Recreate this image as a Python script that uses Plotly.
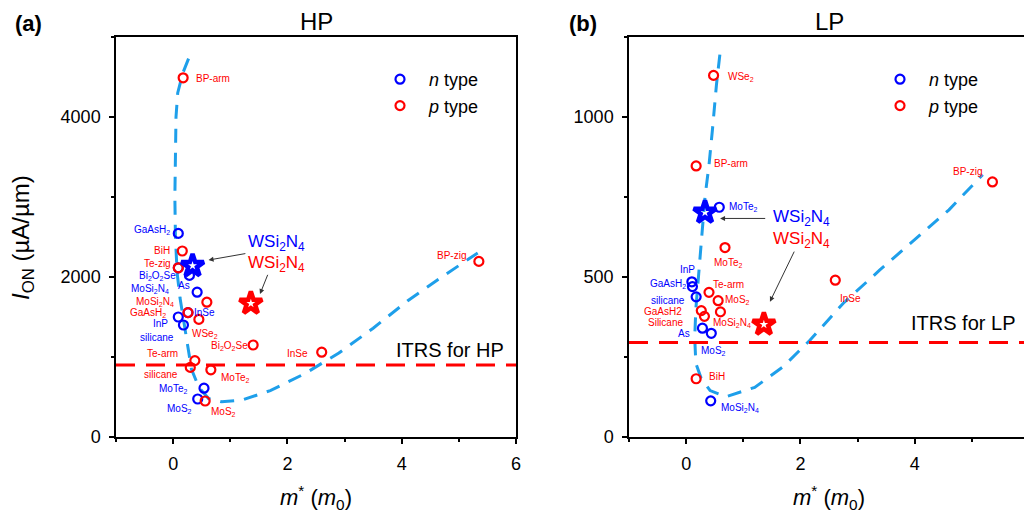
import plotly.graph_objects as go

# ---------------- data: HP panel ----------------
hp_n_names = ["GaAsH<sub>2</sub>", "Bi<sub>2</sub>O<sub>2</sub>Se", "As", "MoSi<sub>2</sub>N<sub>4</sub>",
              "InSe", "InP", "silicane", "MoTe<sub>2</sub>", "MoS<sub>2</sub>"]
hp_n_mass = [0.09, 0.09, 0.285, 0.42, 0.26, 0.09, 0.18, 0.54, 0.43]
hp_n_ion = [2545, 2115, 2020, 1810, 1555, 1500, 1400, 610, 475]

hp_p_names = ["BP-arm", "BiH", "Te-zig", "MoSi<sub>2</sub>N<sub>4</sub>", "GaAsH<sub>2</sub>", "WSe<sub>2</sub>",
              "Bi<sub>2</sub>O<sub>2</sub>Se", "InSe", "BP-zig", "Te-arm", "silicane", "MoTe<sub>2</sub>", "MoS<sub>2</sub>"]
hp_p_mass = [0.175, 0.16, 0.09, 0.59, 0.26, 0.45, 1.40, 2.60, 5.35, 0.38, 0.30, 0.66, 0.56]
hp_p_ion = [4490, 2325, 2115, 1685, 1555, 1470, 1150, 1060, 2195, 955, 870, 840, 450]

hp_star_n = (0.34, 2140)
hp_star_p = (1.36, 1670)
hp_itrs = 900

hp_curve_mass = [0.27, 0.17, 0.08, 0.05, 0.04, 0.03, 0.04, 0.07, 0.12, 0.20, 0.25, 0.32, 0.45,
                 0.62, 0.85, 1.2, 1.7, 2.3, 2.9, 3.5, 4.1, 4.7, 5.33]
hp_curve_ion = [4730, 4550, 4300, 4000, 3500, 3000, 2500, 2050, 1740, 1400, 1150, 850, 620,
                480, 440, 460, 580, 790, 1050, 1360, 1700, 2000, 2300]

# ---------------- data: LP panel ----------------
lp_n_names = ["InP", "GaAsH<sub>2</sub>", "silicane", "As", "MoS<sub>2</sub>", "MoSi<sub>2</sub>N<sub>4</sub>", "MoTe<sub>2</sub>"]
lp_n_mass = [0.10, 0.11, 0.175, 0.285, 0.44, 0.43, 0.58]
lp_n_ion = [485, 470, 438, 340, 324, 113, 718]

lp_p_names = ["WSe<sub>2</sub>", "BP-arm", "MoTe<sub>2</sub>", "Te-arm", "MoS<sub>2</sub>", "GaAsH2", "Silicane",
              "MoSi<sub>2</sub>N<sub>4</sub>", "InSe", "BiH", "BP-zig"]
lp_p_mass = [0.48, 0.175, 0.68, 0.40, 0.56, 0.265, 0.32, 0.60, 2.61, 0.175, 5.36]
lp_p_ion = [1130, 847, 592, 452, 426, 395, 377, 391, 490, 182, 797]

lp_star_n = (0.33, 702)
lp_star_p = (1.36, 352)
lp_itrs = 295

lp_curve_mass = [0.59, 0.53, 0.46, 0.40, 0.33, 0.27, 0.22, 0.17, 0.15, 0.17, 0.26, 0.42, 0.70,
                 1.2, 1.7, 2.17, 2.75, 3.39, 4.03, 4.6, 5.19]
lp_curve_ion = [1195, 1100, 960, 850, 750, 630, 510, 400, 310, 230, 185, 145, 126,
                155, 220, 303, 418, 522, 621, 710, 820]

# ---------------- label offsets (pixels) ----------------
hp_n_dx = [-26, -21, -5, -47, 16, -18, -26, -31, -18]
hp_n_dy = [3, -8, -10, 3, 0, -6, -12, -1, -10]
hp_p_dx = [30, -20, -21, -52, -40, 6, -24, -24, -27, -32, -29, 24, 18]
hp_p_dy = [-1, 0, 4, 0, 0, -15, -1, -1, 6, 7, -7, -8, -11]
lp_n_dx = [-4, -24, -28, -18, 2, 29, 24]
lp_n_dy = [12, 3, -4, -5, -18, -7, 0]
lp_p_dx = [27, 35, 3, 19, 19, -38, -39, 12, 15, 21, -25]
lp_p_dy = [-2, 2, -15, 8, 1, -1, -6, -11, -18, 2, 10]

BLUE = "#0000FF"
RED = "#FF0000"
CURVE = "#1E9FEA"
FONT = "Liberation Sans, Arial, sans-serif"
W, H = 1032, 519
OFF = 8  # page body margin in the viewer


def PX(px):
    return (px - OFF) / W


def PY(py):
    return 1 - (py - OFF) / H


fig = go.Figure()


def add_panel(xa, ya, legend, n_m, n_i, p_m, p_i, star_n, star_p, cm, ci, itrs):
    fig.add_trace(go.Scatter(x=cm, y=ci, mode="lines", xaxis=xa, yaxis=ya, showlegend=False,
                             line=dict(color=CURVE, width=3, dash="14px,10px"), hoverinfo="skip"))
    fig.add_trace(go.Scatter(x=[-1, 6], y=[itrs, itrs], mode="lines", xaxis=xa, yaxis=ya, showlegend=False,
                             line=dict(color=RED, width=3, dash="19px,11px"), hoverinfo="skip"))
    fig.add_trace(go.Scatter(x=n_m, y=n_i, mode="markers", xaxis=xa, yaxis=ya, name="<i>n</i> type",
                             legend=legend,
                             marker=dict(symbol="circle-open", size=9, color=BLUE, line=dict(width=2.2, color=BLUE))))
    fig.add_trace(go.Scatter(x=p_m, y=p_i, mode="markers", xaxis=xa, yaxis=ya, name="<i>p</i> type",
                             legend=legend,
                             marker=dict(symbol="circle-open", size=9, color=RED, line=dict(width=2.2, color=RED))))
    fig.add_trace(go.Scatter(x=[star_n[0]], y=[star_n[1]], mode="markers", xaxis=xa, yaxis=ya, showlegend=False,
                             marker=dict(symbol="star-open", size=17, color=BLUE, line=dict(width=4.5, color=BLUE))))
    fig.add_trace(go.Scatter(x=[star_p[0]], y=[star_p[1]], mode="markers", xaxis=xa, yaxis=ya, showlegend=False,
                             marker=dict(symbol="star-open", size=17, color=RED, line=dict(width=4.5, color=RED))))


add_panel("x", "y", "legend", hp_n_mass, hp_n_ion, hp_p_mass, hp_p_ion, hp_star_n, hp_star_p,
          hp_curve_mass, hp_curve_ion, hp_itrs)
add_panel("x2", "y2", "legend2", lp_n_mass, lp_n_ion, lp_p_mass, lp_p_ion, lp_star_n, lp_star_p,
          lp_curve_mass, lp_curve_ion, lp_itrs)

ann = []


def labels(xr, yr, names, mass, ion, dx, dy, color):
    for nm, m, v, sx, sy in zip(names, mass, ion, dx, dy):
        ann.append(dict(x=m, y=v, xref=xr, yref=yr, text=nm, showarrow=False, xshift=sx, yshift=sy,
                        font=dict(size=10, color=color, family=FONT)))


labels("x", "y", hp_n_names, hp_n_mass, hp_n_ion, hp_n_dx, hp_n_dy, BLUE)
labels("x", "y", hp_p_names, hp_p_mass, hp_p_ion, hp_p_dx, hp_p_dy, RED)
labels("x2", "y2", lp_n_names, lp_n_mass, lp_n_ion, lp_n_dx, lp_n_dy, BLUE)
labels("x2", "y2", lp_p_names, lp_p_mass, lp_p_ion, lp_p_dx, lp_p_dy, RED)

WSI = "WSi<sub>2</sub>N<sub>4</sub>"
ann += [
    dict(x=1.81, y=2421, xref="x", yref="y", text=WSI, showarrow=False, font=dict(size=17, color=BLUE, family=FONT)),
    dict(x=1.81, y=2163, xref="x", yref="y", text=WSI, showarrow=False, font=dict(size=17, color=RED, family=FONT)),
    dict(x=0.62, y=2212, ax=1.29, ay=2296, xref="x", yref="y", axref="x", ayref="y", text="", showarrow=True,
         arrowhead=2, arrowsize=1, arrowwidth=1, arrowcolor="#333333"),
    dict(x=1.52, y=1787, ax=1.665, ay=2046, xref="x", yref="y", axref="x", ayref="y", text="", showarrow=True,
         arrowhead=2, arrowsize=1, arrowwidth=1, arrowcolor="#333333"),
    dict(x=4.84, y=1087, xref="x", yref="y", text="ITRS for HP", showarrow=False,
         font=dict(size=20, color="black", family=FONT)),
    dict(x=2.02, y=683, xref="x2", yref="y2", text=WSI, showarrow=False, font=dict(size=17, color=BLUE, family=FONT)),
    dict(x=2.02, y=616, xref="x2", yref="y2", text=WSI, showarrow=False, font=dict(size=17, color=RED, family=FONT)),
    dict(x=0.594, y=683, ax=1.41, ay=683, xref="x2", yref="y2", axref="x2", ayref="y2", text="", showarrow=True,
         arrowhead=2, arrowsize=1, arrowwidth=1, arrowcolor="#333333"),
    dict(x=1.467, y=423, ax=1.904, ay=584, xref="x2", yref="y2", axref="x2", ayref="y2", text="", showarrow=True,
         arrowhead=2, arrowsize=1, arrowwidth=1, arrowcolor="#333333"),
    dict(x=4.84, y=357, xref="x2", yref="y2", text="ITRS for LP", showarrow=False,
         font=dict(size=20, color="black", family=FONT)),
]


def paper_text(px, py, text, size, angle=0):
    ann.append(dict(x=PX(px), y=PY(py), xref="paper", yref="paper", text=text, showarrow=False, textangle=angle,
                    xanchor="center", yanchor="middle", font=dict(size=size, color="black", family=FONT)))


paper_text(28, 23, "<b>(a)</b>", 22)
paper_text(583, 23, "<b>(b)</b>", 22)
paper_text(316, 21, "HP", 24)
paper_text(829, 21, "LP", 24)
paper_text(22, 238, "<i>I</i><sub>ON</sub> (µA/µm)", 24, -90)
paper_text(316, 497, "<i>m</i><sup>*</sup> (<i>m</i><sub>0</sub>)", 22)
paper_text(829, 497, "<i>m</i><sup>*</sup> (<i>m</i><sub>0</sub>)", 22)

ydom = [PY(437), PY(37)]
axis_common = dict(showgrid=False, zeroline=False, showline=True, linecolor="black", linewidth=1.5,
                   mirror=True, ticks="outside", ticklen=5, tickwidth=1.5, tickcolor="black", automargin=False,
                   ticklabelstandoff=5, tickfont=dict(size=18, color="black", family=FONT))
minor_style = dict(ticks="outside", ticklen=3, tickcolor="black", tickwidth=1.5)

fig.update_layout(
    width=W, height=H, autosize=False,
    margin=dict(l=0, r=0, t=0, b=0, pad=0, autoexpand=False),
    paper_bgcolor="white", plot_bgcolor="white",
    font=dict(family=FONT, color="black"),
    xaxis=dict(domain=[PX(116), PX(516)], range=[-1, 6], tick0=0, dtick=2, anchor="y",
               minor=dict(dtick=1, **minor_style), **axis_common),
    yaxis=dict(domain=ydom, range=[0, 5000], tick0=0, dtick=2000, anchor="x",
               minor=dict(dtick=1000, **minor_style), **axis_common),
    xaxis2=dict(domain=[PX(629), PX(1029)], range=[-1, 6], tick0=0, dtick=2, anchor="y2",
                minor=dict(dtick=1, **minor_style), **axis_common),
    yaxis2=dict(domain=ydom, range=[0, 1250], tick0=0, dtick=500, anchor="x2",
                minor=dict(dtick=250, **minor_style), **axis_common),
    legend=dict(x=PX(371), y=PY(61), xanchor="left", yanchor="top", bgcolor="rgba(0,0,0,0)",
                itemwidth=48, font=dict(size=18, color="black", family=FONT), tracegroupgap=0),
    legend2=dict(x=PX(871), y=PY(61), xanchor="left", yanchor="top", bgcolor="rgba(0,0,0,0)",
                 itemwidth=48, font=dict(size=18, color="black", family=FONT), tracegroupgap=0),
    annotations=ann,
    showlegend=True,
)

fig.write_html("out.html")
